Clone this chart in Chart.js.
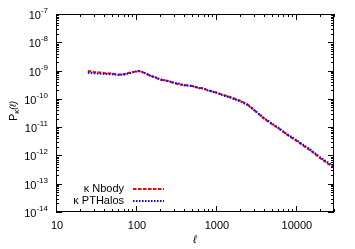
<!DOCTYPE html>
<html>
<head>
<meta charset="utf-8">
<script src="https://cdn.jsdelivr.net/npm/chart.js@4"></script>
<style>
  html, body { margin: 0; padding: 0; background: #fff; }
</style>
</head>
<body>
<canvas id="chart" width="355" height="249"></canvas>
<script>
/* data */
const ells = [25, 30, 40, 50, 60, 70, 80, 90, 100, 110, 125, 150, 175, 200, 250, 300, 350, 400, 500, 600, 700, 800, 1000, 1200, 1500, 2000, 2500, 3000, 4000, 5000, 6000, 8000, 10000, 12000, 15000, 20000, 25000, 30000];
const nbody = [9.7e-10, 8.9e-10, 8.2e-10, 7.9e-10, 7.2e-10, 7.4e-10, 8.2e-10, 8.7e-10, 9.4e-10, 9.7e-10, 8.5e-10, 6.6e-10, 5.7e-10, 4.8e-10, 4.3e-10, 3.6e-10, 3.2e-10, 3.1e-10, 2.85e-10, 2.5e-10, 2.3e-10, 2.0e-10, 1.68e-10, 1.43e-10, 1.16e-10, 8.7e-11, 6.3e-11, 4.1e-11, 2.0e-11, 1.29e-11, 9.3e-12, 5.1e-12, 3.4e-12, 2.35e-12, 1.55e-12, 8.1e-13, 5.2e-13, 3.6e-13];
const pthalos = [8.3e-10, 8.0e-10, 7.6e-10, 7.4e-10, 7.0e-10, 7.1e-10, 7.9e-10, 8.5e-10, 9.2e-10, 9.6e-10, 8.6e-10, 6.6e-10, 5.8e-10, 4.9e-10, 4.3e-10, 3.7e-10, 3.4e-10, 3.0e-10, 2.9e-10, 2.4e-10, 2.35e-10, 1.95e-10, 1.7e-10, 1.35e-10, 1.12e-10, 8.2e-11, 6.0e-11, 4.0e-11, 2.1e-11, 1.35e-11, 9.6e-12, 5.3e-12, 3.6e-12, 2.5e-12, 1.65e-12, 8.8e-13, 5.7e-13, 4.0e-13];
const xTicks = [10, 100, 1000, 10000];
const yExps = [-14, -13, -12, -11, -10, -9, -8, -7];

const FONT = '"Liberation Sans", Arial, sans-serif';

/* frame, inward ticks, labels, legend */
const framePlugin = {
  id: "frame",
  afterDraw(chart) {
    const { ctx, chartArea: a, scales: { x, y } } = chart;
    ctx.save();
    ctx.strokeStyle = "#000";
    ctx.lineWidth = 1;
    ctx.strokeRect(a.left + 0.5, a.top + 0.5, a.right - a.left - 1, a.bottom - a.top - 1);

    ctx.beginPath();
    for (let d = 1; d <= 4; d++) {
      for (let m = 1; m <= 9; m++) {
        const v = m * Math.pow(10, d);
        if (v > x.max) continue;
        const px = Math.round(x.getPixelForValue(v)) + 0.5;
        const len = m === 1 ? 6 : 3;
        ctx.moveTo(px, a.bottom); ctx.lineTo(px, a.bottom - len);
        ctx.moveTo(px, a.top); ctx.lineTo(px, a.top + len);
      }
    }
    for (let d = -14; d <= -8; d++) {
      for (let m = 1; m <= 9; m++) {
        const v = m * Math.pow(10, d);
        const py = Math.round(y.getPixelForValue(v)) + 0.5;
        const len = m === 1 ? 6 : 3;
        ctx.moveTo(a.left, py); ctx.lineTo(a.left + len, py);
        ctx.moveTo(a.right, py); ctx.lineTo(a.right - len, py);
      }
    }
    ctx.stroke();

    ctx.fillStyle = "#000";
    ctx.font = "11px " + FONT;
    ctx.textAlign = "center";
    ctx.textBaseline = "middle";
    xTicks.forEach((v) => {
      ctx.fillText(String(v), x.getPixelForValue(v) + 1, a.bottom + 14);
    });

    yExps.forEach((e) => {
      const py = y.getPixelForValue(Math.pow(10, e));
      const exp = String(e);
      ctx.font = "8px " + FONT;
      ctx.textAlign = "right";
      ctx.textBaseline = "alphabetic";
      const ew = ctx.measureText(exp).width;
      ctx.fillText(exp, a.left - 8, py - 1);
      ctx.font = "11px " + FONT;
      ctx.textBaseline = "middle";
      ctx.fillText("10", a.left - 8 - ew, py + 2);
    });

    // y title
    ctx.save();
    ctx.translate(14, 111);
    ctx.rotate(-Math.PI / 2);
    ctx.textAlign = "left";
    ctx.textBaseline = "middle";
    ctx.font = "11px " + FONT;
    const wP = ctx.measureText("P").width;
    ctx.font = "8px " + FONT;
    const wK = ctx.measureText("κ").width;
    ctx.font = "italic 9px " + FONT;
    const wL = ctx.measureText("(ℓ)").width;
    let tx = -(wP + wK + wL) / 2;
    ctx.font = "11px " + FONT;
    ctx.fillText("P", tx, 0);
    tx += wP;
    ctx.font = "8px " + FONT;
    ctx.fillText("κ", tx, 3);
    tx += wK;
    ctx.font = "italic 9px " + FONT;
    ctx.fillText("(ℓ)", tx, -1);
    ctx.restore();

    // x title
    ctx.font = "italic 11px " + FONT;
    ctx.textAlign = "center";
    ctx.textBaseline = "middle";
    ctx.fillText("ℓ", (a.left + a.right) / 2, 240);

    // legend
    const rows = [
      { ds: chart.data.datasets[1], y: 189 },
      { ds: chart.data.datasets[0], y: 201 },
    ];
    ctx.font = "11px " + FONT;
    rows.forEach((r) => {
      ctx.fillStyle = "#000";
      ctx.textAlign = "right";
      ctx.fillText(r.ds.label, 124, r.y);
      ctx.beginPath();
      ctx.strokeStyle = r.ds.borderColor;
      ctx.lineWidth = r.ds.borderWidth;
      ctx.setLineDash(r.ds.borderDash);
      ctx.moveTo(133, r.y);
      ctx.lineTo(164, r.y);
      ctx.stroke();
      ctx.setLineDash([]);
    });
    ctx.restore();
  },
};

new Chart(document.getElementById("chart"), {
  type: "line",
  data: {
    datasets: [
      {
        label: "κ PTHalos",
        data: ells.map((l, i) => ({ x: l, y: pthalos[i] })),
        borderColor: "#0000ff",
        borderWidth: 2,
        borderDash: [1.5, 1.5],
        pointRadius: 0,
        fill: false,
      },
      {
        label: "κ Nbody",
        data: ells.map((l, i) => ({ x: l, y: nbody[i] })),
        borderColor: "#ff0000",
        borderWidth: 2,
        borderDash: [3.5, 1.5],
        pointRadius: 0,
        fill: false,
      },
    ],
  },
  options: {
    responsive: false,
    animation: false,
    layout: { padding: { left: 56, right: 21, top: 14, bottom: 37 } },
    plugins: { legend: { display: false }, tooltip: { enabled: false } },
    scales: {
      x: { type: "logarithmic", min: 10, max: 30000, display: false },
      y: { type: "logarithmic", min: 1e-14, max: 1e-7, display: false },
    },
  },
  plugins: [framePlugin],
});
</script>
</body>
</html>
